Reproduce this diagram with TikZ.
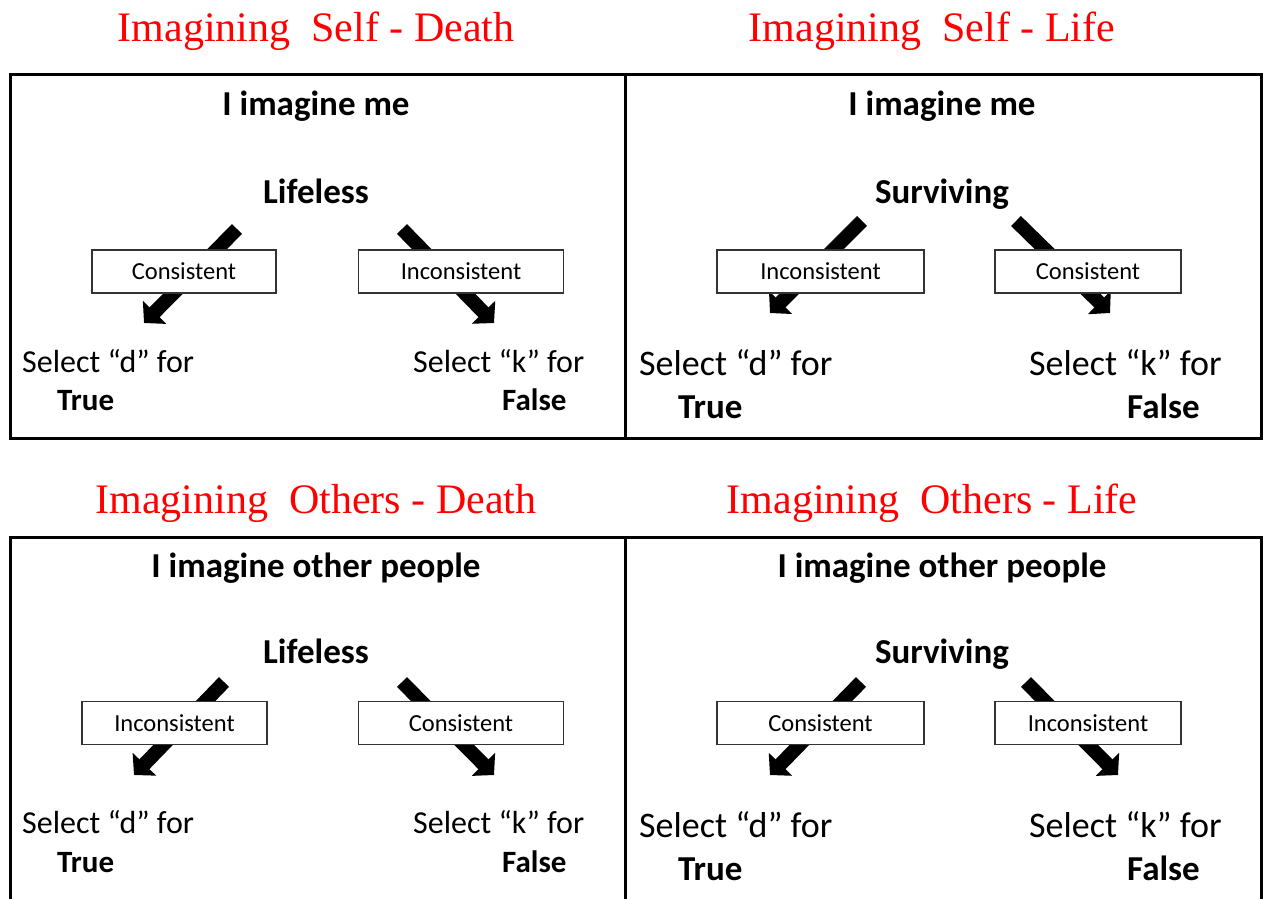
\documentclass[tikz,border=0pt]{standalone}
\usepackage{fontspec}
\setmainfont{Carlito}
\newfontfamily\titlefont{Liberation Serif}
\usetikzlibrary{arrows.meta}
\definecolor{ttlred}{RGB}{255,0,0}
\begin{document}
\begin{tikzpicture}[x=1pt,y=-1pt,
  frame/.style={line width=3pt, draw=black},
  ttl/.style={anchor=base, inner sep=0pt, text=ttlred, font=\titlefont\fontsize{42}{42}\selectfont},
  hd/.style={anchor=base, inner sep=0pt, font=\bfseries\fontsize{35}{35}\selectfont},
  selS/.style={anchor=base west, inner sep=0pt, font=\fontsize{32}{32}\selectfont},
  selL/.style={anchor=base west, inner sep=0pt, font=\fontsize{36}{36}\selectfont},
  tfS/.style={anchor=base west, inner sep=0pt, font=\bfseries\fontsize{31}{31}\selectfont},
  tfL/.style={anchor=base west, inner sep=0pt, font=\bfseries\fontsize{35}{35}\selectfont},
  cbox/.style={draw=black!80, line width=1.3pt, fill=white, inner sep=0pt, minimum height=43pt, font=\fontsize{24.5}{24.5}\selectfont},
  bigarrow/.style={line width=14pt, draw=black, -{Triangle[length=15pt,width=32pt]}}
]
\useasboundingbox (0,0) rectangle (1267,899);
\clip (0,0) rectangle (1267,899);

% titles
\node[ttl] (t1) at (316,42) {Imagining~~Self - Death};
\node[ttl] (t2) at (932,42) {Imagining~~Self - Life};
\node[ttl] (t3) at (316,513) {Imagining~~Others - Death};
\node[ttl] (t4) at (932,513) {Imagining~~Others - Life};

% frames
\draw[frame] (10,75) rectangle (1261,438);
\draw[frame] (625,75) -- (625,438);
\draw[frame] (10,537) rectangle (1261,910);
\draw[frame] (625,537) -- (625,910);

% ---------- Panel 1: Self - Death ----------
\node[hd] (p1h) at (316,115) {I imagine me};
\node[hd] (p1w) at (316,203) {Lifeless};
\coordinate (p1as) at (237,229); \coordinate (p1ae) at (144,323);
\coordinate (p1bs) at (402,229); \coordinate (p1be) at (494,323);
\draw[bigarrow] (p1as) -- (p1ae);
\draw[bigarrow] (p1bs) -- (p1be);
\node[cbox, minimum width=184pt] (p1l) at (184,271.5) {Consistent};
\node[cbox, minimum width=205pt] (p1r) at (461,271.5) {Inconsistent};
\node[selS] (p1sd) at (22,372) {Select “d” for};
\node[tfS] (p1t) at (57,410) {True};
\node[selS] (p1sk) at (413,372) {Select “k” for};
\node[tfS] (p1f) at (502,410) {False};

% ---------- Panel 2: Self - Life ----------
\node[hd] (p2h) at (942,115) {I imagine me};
\node[hd] (p2w) at (942,203) {Surviving};
\coordinate (p2as) at (862,221); \coordinate (p2ae) at (770,313);
\coordinate (p2bs) at (1016,221); \coordinate (p2be) at (1110,313);
\draw[bigarrow] (p2as) -- (p2ae);
\draw[bigarrow] (p2bs) -- (p2be);
\node[cbox, minimum width=207pt] (p2l) at (820.5,271.5) {Inconsistent};
\node[cbox, minimum width=186pt] (p2r) at (1088,271.5) {Consistent};
\node[selL] (p2sd) at (639,375) {Select “d” for};
\node[tfL] (p2t) at (678,418) {True};
\node[selL] (p2sk) at (1029,375) {Select “k” for};
\node[tfL] (p2f) at (1127,418) {False};

% ---------- Panel 3: Others - Death ----------
\node[hd] (p3h) at (316,577) {I imagine other people};
\node[hd] (p3w) at (316,663) {Lifeless};
\coordinate (p3as) at (224,682); \coordinate (p3ae) at (134,775);
\coordinate (p3bs) at (402,682); \coordinate (p3be) at (494,775);
\draw[bigarrow] (p3as) -- (p3ae);
\draw[bigarrow] (p3bs) -- (p3be);
\node[cbox, minimum width=185pt] (p3l) at (174.5,723) {Inconsistent};
\node[cbox, minimum width=205pt] (p3r) at (461,723) {Consistent};
\node[selS] (p3sd) at (22,833) {Select “d” for};
\node[tfS] (p3t) at (57,872) {True};
\node[selS] (p3sk) at (413,833) {Select “k” for};
\node[tfS] (p3f) at (502,872) {False};

% ---------- Panel 4: Others - Life ----------
\node[hd] (p4h) at (942,577) {I imagine other people};
\node[hd] (p4w) at (942,663) {Surviving};
\coordinate (p4as) at (861,682); \coordinate (p4ae) at (770,775);
\coordinate (p4bs) at (1026,682); \coordinate (p4be) at (1118,775);
\draw[bigarrow] (p4as) -- (p4ae);
\draw[bigarrow] (p4bs) -- (p4be);
\node[cbox, minimum width=207pt] (p4l) at (820.5,723) {Consistent};
\node[cbox, minimum width=186pt] (p4r) at (1088,723) {Inconsistent};
\node[selL] (p4sd) at (639,837) {Select “d” for};
\node[tfL] (p4t) at (678,880) {True};
\node[selL] (p4sk) at (1029,837) {Select “k” for};
\node[tfL] (p4f) at (1127,880) {False};
\end{tikzpicture}
\end{document}
